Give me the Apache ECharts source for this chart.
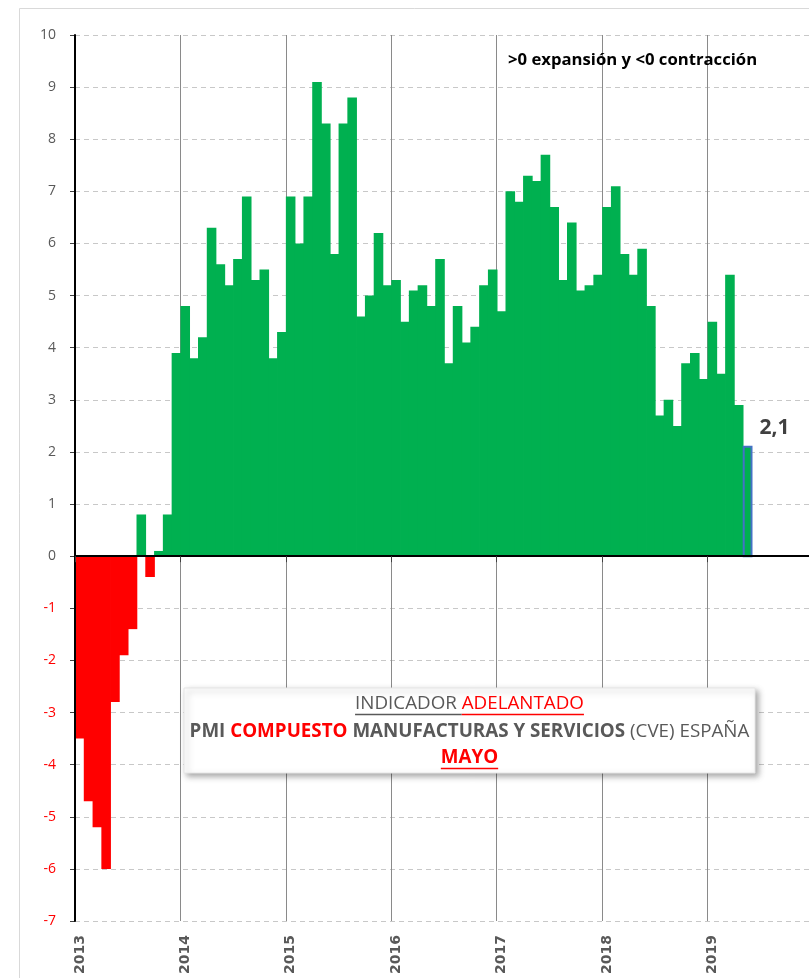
<!DOCTYPE html>
<html>
<head>
<meta charset="utf-8">
<script src="https://cdn.jsdelivr.net/npm/echarts@6/dist/echarts.min.js"></script>
<style>
html,body{margin:0;padding:0;background:#fff;}
#chart{width:809px;height:978px;}
</style>
</head>
<body>
<div id="chart"></div>
<script>
// ---- data ----
const years = [2013, 2014, 2015, 2016, 2017, 2018, 2019];
const monthNames = ['ene','feb','mar','abr','may','jun','jul','ago','sep','oct','nov','dic'];
const yearLabels = ['2013','2014','2015','2016','2017','2018','2019','2020'];
const values2013 = [-3.5, -4.7, -5.2, -6.0, -2.8, -1.9, -1.4, 0.8, -0.4, 0.1, 0.8, 3.9];
const values2014 = [4.8, 3.8, 4.2, 6.3, 5.6, 5.2, 5.7, 6.9, 5.3, 5.5, 3.8, 4.3];
const values2015 = [6.9, 6.0, 6.9, 9.1, 8.3, 5.8, 8.3, 8.8, 4.6, 5.0, 6.2, 5.2];
const values2016 = [5.3, 4.5, 5.1, 5.2, 4.8, 5.7, 3.7, 4.8, 4.1, 4.4, 5.2, 5.5];
const values2017 = [4.7, 7.0, 6.8, 7.3, 7.2, 7.7, 6.7, 5.3, 6.4, 5.1, 5.2, 5.4];
const values2018 = [6.7, 7.1, 5.8, 5.4, 5.9, 4.8, 2.7, 3.0, 2.5, 3.7, 3.9, 3.4];
const values2019 = [4.5, 3.5, 5.4, 2.9, 2.1];
const noteText = '>0 expansión y <0 contracción';
const boxLine1a = 'INDICADOR ';
const boxLine1b = 'ADELANTADO';
const boxLine2 = ['PMI ', 'COMPUESTO', ' MANUFACTURAS Y SERVICIOS ', '(CVE) ESPAÑA'];
const boxLine3 = 'MAYO';

// ---- build ----
const categories = [];
years.forEach(y => monthNames.forEach(m => categories.push(m + '-' + y)));
const values = [].concat(values2013, values2014, values2015, values2016, values2017, values2018, values2019);
const seriesData = values.map((v, i) => [i, v]);

const GREEN = '#00B050', RED = '#FF0000', GRAY = '#595959', BLUE = '#4472C4';
const FONT = "'Open Sans', 'Noto Sans', sans-serif";

function renderBar(params, api) {
  const i = api.value(0), v = api.value(1);
  const p = api.coord([i, v]);
  const z0 = api.coord([i, 0]);
  const w = api.size([1, 0])[0];
  const x = p[0] - w / 2;
  const y = Math.min(p[1], z0[1]);
  const h = Math.abs(z0[1] - p[1]);
  const isLast = params.dataIndex === values.length - 1;
  if (isLast) {
    return {
      type: 'group',
      children: [
        { type: 'rect', shape: { x: x + 1, y: y, width: w - 1, height: h },
          style: { fill: GREEN, stroke: BLUE, lineWidth: 2 } },
        { type: 'text', x: x + w + 8, y: p[1] - 19,
          style: { text: String(v).replace('.', ','), font: 'bold 21px ' + FONT, fill: '#404040', align: 'left', verticalAlign: 'middle' } }
      ]
    };
  }
  return {
    type: 'rect',
    shape: { x: x, y: y, width: w + 0.8, height: h },
    style: { fill: v < 0 ? RED : GREEN }
  };
}

// text measurement helper
const mctx = document.createElement('canvas').getContext('2d');
function tw(text, weight, size) { mctx.font = weight + ' ' + size + 'px ' + FONT; return mctx.measureText(text).width; }

const line2W100 = tw(boxLine2[0], 'bold', 100) + tw(boxLine2[1], 'bold', 100) + tw(boxLine2[2], 'bold', 100) + tw(boxLine2[3], 'normal', 100);
const boxFS = Math.round(100 * 561 / line2W100 * 10) / 10;
const noteFS = Math.round(100 * 249 / tw(noteText, 'bold', 100) * 10) / 10;

const boxCX = 469.5;
const w1a = tw(boxLine1a, 'normal', boxFS), w1b = tw(boxLine1b, 'normal', boxFS);
const l1x0 = boxCX - (w1a + w1b) / 2;
const w3 = tw(boxLine3, 'bold', boxFS);

const chart = echarts.init(document.getElementById('chart'), null, { renderer: 'canvas' });
const option = {
  animation: false,
  backgroundColor: '#fff',
  grid: { left: 75, top: 35, width: 738, bottom: 57, containLabel: false, outerBoundsMode: 'none' },
  xAxis: [
    {
      type: 'category', data: categories, boundaryGap: true, position: 'bottom', z: 10,
      axisLine: { onZero: true, lineStyle: { color: '#000', width: 2 } },
      axisTick: { show: true, interval: i => i % 12 === 0, length: 6, lineStyle: { color: '#404040' } },
      axisLabel: { show: false }, splitLine: { show: false }
    },
    {
      type: 'value', min: 0, max: 84, interval: 12, position: 'bottom',
      axisLine: { show: false, onZero: false }, axisTick: { show: false },
      splitLine: { show: true, lineStyle: { color: '#8a8a8a', width: 1 } },
      axisLabel: {
        rotate: 90, margin: 14, showMaxLabel: false,
        formatter: v => '{y|' + yearLabels[Math.round(v / 12)] + '}',
        rich: { y: { fontFamily: 'DejaVu Sans', fontWeight: 'bold', fontSize: 14, color: GRAY, padding: [10, 0, 0, 0] } }
      }
    }
  ],
  yAxis: [
    {
      type: 'value', min: -7, max: 10, interval: 1, position: 'left',
      axisLine: { show: false, onZero: false },
      axisTick: { show: true, length: 5, lineStyle: { color: '#404040' } },
      splitLine: { show: true, lineStyle: { type: [5, 4], color: '#c8c8c8', width: 1 } },
      axisLabel: {
        margin: 19,
        formatter: v => (v < 0 ? '{r|' + v + '}' : '{g|' + v + '}'),
        rich: {
          r: { color: RED, fontFamily: FONT, fontSize: 14 },
          g: { color: GRAY, fontFamily: FONT, fontSize: 14 }
        }
      }
    },
    {
      type: 'value', min: -7, max: 10, interval: 1, position: 'left', z: 10,
      axisLine: { show: true, onZero: false, lineStyle: { color: '#000', width: 2 } },
      axisTick: { show: false }, axisLabel: { show: false }, splitLine: { show: false }
    }
  ],
  series: [{
    type: 'custom', xAxisIndex: 0, yAxisIndex: 0, data: seriesData,
    encode: { x: 0, y: 1 }, renderItem: renderBar, clip: false, z: 2
  }],
  graphic: [
    { type: 'rect', z: -10, silent: true, shape: { x: 19.5, y: 8.5, width: 900, height: 1100 },
      style: { fill: null, stroke: '#d9d9d9', lineWidth: 1 } },
    { type: 'text', z: 50, x: 508, y: 60,
      style: { text: noteText, font: 'bold ' + noteFS + 'px ' + FONT, fill: '#000', align: 'left', verticalAlign: 'middle' } },
    { type: 'rect', z: 50, shape: { x: 184, y: 688, width: 571, height: 85 },
      style: { fill: '#fff', stroke: '#e6e6e6', lineWidth: 1, shadowBlur: 6, shadowOffsetX: 3, shadowOffsetY: 3, shadowColor: 'rgba(0,0,0,0.35)' } },
    { type: 'text', z: 51, x: boxCX, y: 704,
      style: { text: '{a|' + boxLine1a + '}{b|' + boxLine1b + '}', align: 'center', verticalAlign: 'middle',
        rich: { a: { font: 'normal ' + boxFS + 'px ' + FONT, fill: GRAY }, b: { font: 'normal ' + boxFS + 'px ' + FONT, fill: RED } } } },
    { type: 'line', z: 51, shape: { x1: l1x0, y1: 714.5, x2: l1x0 + w1a, y2: 714.5 }, style: { stroke: GRAY, lineWidth: 1.3 } },
    { type: 'line', z: 51, shape: { x1: l1x0 + w1a, y1: 714.5, x2: l1x0 + w1a + w1b, y2: 714.5 }, style: { stroke: RED, lineWidth: 1.3 } },
    { type: 'text', z: 51, x: boxCX, y: 732,
      style: { text: '{a|' + boxLine2[0] + '}{b|' + boxLine2[1] + '}{a|' + boxLine2[2] + '}{c|' + boxLine2[3] + '}',
        align: 'center', verticalAlign: 'middle',
        rich: {
          a: { font: 'bold ' + boxFS + 'px ' + FONT, fill: GRAY },
          b: { font: 'bold ' + boxFS + 'px ' + FONT, fill: RED },
          c: { font: 'normal ' + boxFS + 'px ' + FONT, fill: GRAY }
        } } },
    { type: 'text', z: 51, x: boxCX, y: 758,
      style: { text: boxLine3, font: 'bold ' + boxFS + 'px ' + FONT, fill: RED, align: 'center', verticalAlign: 'middle' } },
    { type: 'line', z: 51, shape: { x1: boxCX - w3 / 2, y1: 768.5, x2: boxCX + w3 / 2, y2: 768.5 }, style: { stroke: RED, lineWidth: 1.5 } }
  ]
};
chart.setOption(option);
</script>
</body>
</html>
